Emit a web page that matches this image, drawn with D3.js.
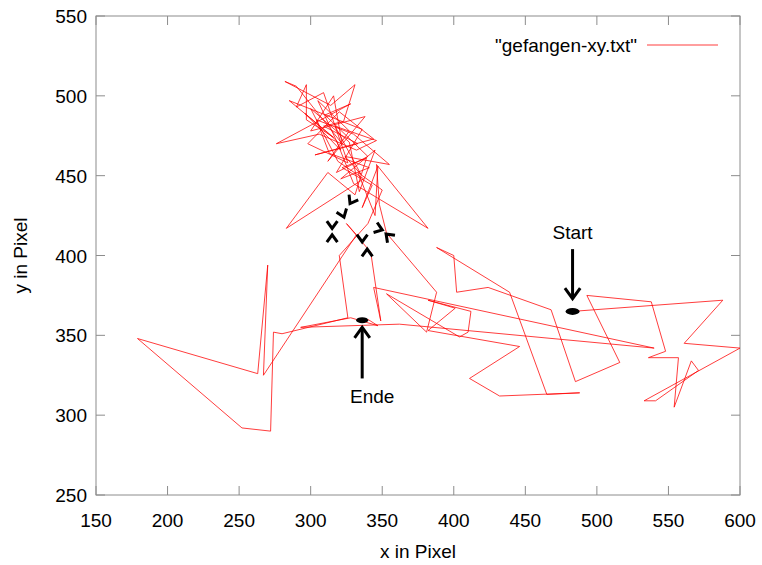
<!DOCTYPE html>
<html><head><meta charset="utf-8">
<script src="https://cdn.jsdelivr.net/npm/d3@7"></script>
<style>body{margin:0;background:#fff}svg{display:block}text{font-family:"Liberation Sans",Arial,sans-serif}</style>
</head><body><svg id="c" width="762" height="565"></svg>
<script>
// ---- data (x / y in pixel) ----
const pathX = [483,588,561,600,533,541,571,566,554,557,536,548,538,493,516,485,468,424,402,400,388,439,465,488,432,411,446,382,401,382,412,410,404,353,381,388,353,348,346,382,
 330,318,296,321,305,327,312,338,300,316,322,290,282,314,331,323,309,333,303,344,320,298,326,309,290,297,297,316,285,336,318,340,310,328,276,306,332,346,317,335,324,355,330,304,313,341,321,345,334,327,300,319,337,283,312,331,339,322,343,336,347,345,333,350,340,
 320,326,280,274,272,252,179,263,270,267,332,325,342,349,344,540,362,293,328,347,340];
const pathY = [365,372,345,342,309,309,328,334,305,336,336,340,371,375,333,321,366,380,377,400,405,377,313,314,312,323,343,353,367,372,365,352,349,376,352,377,414,432,457,417,
 445,472,489,466,497,478,459,487,478,500,470,506,509,494,507,484,481,470,463,473,490,470,458,502,493,507,485,474,497,479,452,462,488,495,470,476,466,472,481,451,462,457,476,485,464,455,448,466,440,471,492,459,448,417,452,438,461,455,444,430,456,425,452,441,420,
 400,361,351,352,290,292,348,326,394,325,413,420,402,359,380,342,357,355,361,356,360];
const xTicks = [150,200,250,300,350,400,450,500,550,600];
const yTicks = [250,300,350,400,450,500,550];
const seriesName = '"gefangen-xy.txt"';
const labels = [{text:"Start", x:483, y:415}, {text:"Ende", x:343, y:312}];
const bigArrows = [{x1:483,y1:404,x2:483,y2:373},{x1:336,y1:323,x2:336,y2:355}];
const ellipses = [{x:483,y:365,rx:7,ry:3.5},{x:336,y:359.5,rx:6,ry:3}];
// small arrowheads: apex position and pointing angle (deg, screen)
const heads = [{x:315,y:417,a:90},{x:315,y:413,a:-90},{x:336,y:408.5,a:90},{x:339.5,y:404,a:-90},{x:350,y:416,a:20},{x:352.7,y:413.5,a:-135},{x:323.3,y:424,a:70},{x:327.5,y:432.5,a:120}];

const W=762,H=565, L=96,R=740,T=16,B=495;
const svg=d3.select("#c");
const x=d3.scaleLinear().domain([150,600]).range([L,R]);
const y=d3.scaleLinear().domain([250,550]).range([B,T]);
const grey="#8c8c8c", fs=19, tl=9;

// border
svg.append("rect").attr("x",L).attr("y",T).attr("width",R-L).attr("height",B-T).attr("fill","none").attr("stroke",grey).attr("stroke-width",1);
// ticks (mirrored, inward)
const tg=svg.append("g").attr("stroke",grey).attr("stroke-width",1);
xTicks.forEach(v=>{tg.append("line").attr("x1",x(v)).attr("x2",x(v)).attr("y1",B).attr("y2",B-tl);
 tg.append("line").attr("x1",x(v)).attr("x2",x(v)).attr("y1",T).attr("y2",T+tl);});
yTicks.forEach(v=>{tg.append("line").attr("y1",y(v)).attr("y2",y(v)).attr("x1",L).attr("x2",L+tl);
 tg.append("line").attr("y1",y(v)).attr("y2",y(v)).attr("x1",R).attr("x2",R-tl);});
xTicks.forEach(v=>svg.append("text").attr("x",x(v)).attr("y",B+32).attr("text-anchor","middle").attr("font-size",fs).text(v));
yTicks.forEach(v=>svg.append("text").attr("x",L-9).attr("y",y(v)+7).attr("text-anchor","end").attr("font-size",fs).text(v));
svg.append("text").attr("x",(L+R)/2).attr("y",558).attr("text-anchor","middle").attr("font-size",fs).text("x in Pixel");
svg.append("text").attr("transform",`translate(27,${(T+B)/2}) rotate(-90)`).attr("text-anchor","middle").attr("font-size",fs).text("y in Pixel");

// data line
const line=d3.line().x(d=>x(d[0])).y(d=>y(d[1]));
const pts=pathX.map((v,i)=>[v,pathY[i]]);
svg.append("path").attr("d",line(pts)).attr("fill","none").attr("stroke","#ff0000").attr("stroke-width",0.9).attr("stroke-opacity",0.85);

// legend
svg.append("text").attr("x",637).attr("y",52).attr("text-anchor","end").attr("font-size",fs).text(seriesName);
svg.append("line").attr("x1",647).attr("x2",718).attr("y1",45).attr("y2",45).attr("stroke","#ff0000").attr("stroke-width",0.9).attr("stroke-opacity",0.85);

// annotations
const ag=svg.append("g").attr("stroke","#000").attr("stroke-width",3).attr("fill","none").attr("stroke-linecap","butt");
bigArrows.forEach(a=>{const x1=x(a.x1),y1=y(a.y1),x2=x(a.x2),y2=y(a.y2);
 ag.append("line").attr("x1",x1).attr("y1",y1).attr("x2",x2).attr("y2",y2);
 const ang=Math.atan2(y2-y1,x2-x1), hl=13, hw=Math.PI/5;
 ag.append("path").attr("d",`M${x2-hl*Math.cos(ang-hw)},${y2-hl*Math.sin(ang-hw)}L${x2},${y2}L${x2-hl*Math.cos(ang+hw)},${y2-hl*Math.sin(ang+hw)}`);});
heads.forEach(h=>{const px=x(h.x),py=y(h.y),ang=h.a*Math.PI/180,hl=9,hw=Math.PI/5;
 ag.append("path").attr("d",`M${px-hl*Math.cos(ang-hw)},${py-hl*Math.sin(ang-hw)}L${px},${py}L${px-hl*Math.cos(ang+hw)},${py-hl*Math.sin(ang+hw)}`);});
ellipses.forEach(e=>svg.append("ellipse").attr("cx",x(e.x)).attr("cy",y(e.y)).attr("rx",e.rx).attr("ry",e.ry).attr("fill","#000"));
labels.forEach(l=>svg.append("text").attr("x",x(l.x)).attr("y",y(l.y)+7).attr("text-anchor","middle").attr("font-size",fs).text(l.text));
</script></body></html>
